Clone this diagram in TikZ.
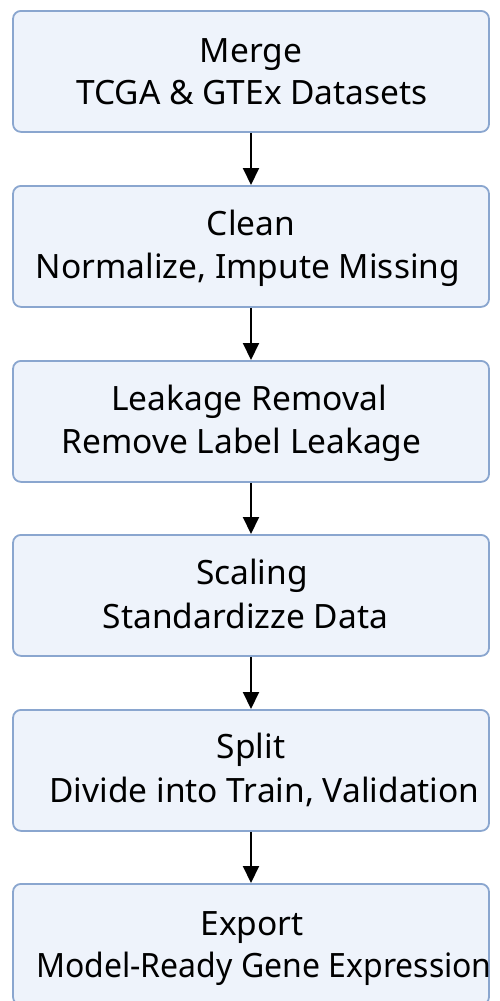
\documentclass[tikz,border=0pt]{standalone}
\usepackage{fontspec}
\setmainfont{Noto Sans}
\usetikzlibrary{arrows.meta}
\definecolor{boxfill}{HTML}{EEF3FB}
\definecolor{boxline}{HTML}{8AA6CF}
\tikzset{
  stepbox/.style={draw=boxline, fill=boxfill, line width=1.8pt, rounded corners=8pt,
    minimum width=476pt, minimum height=121pt, inner sep=0pt, anchor=north},
  lbl/.style={anchor=base, inner sep=0pt, font=\fontsize{33.5}{33.5}\selectfont},
  flow/.style={line width=2pt, -{Triangle[width=16pt,length=17pt]}}
}
\begin{document}
\begin{tikzpicture}[x=1pt,y=-1pt]
\clip (0,0) rectangle (499,1001);
\fill[white] (0,0) rectangle (499,1001);
\node[stepbox] (b1) at (251,10) {};
\node[stepbox] (b2) at (251,185) {};
\node[stepbox] (b3) at (251,360) {};
\node[stepbox] (b4) at (251,534) {};
\node[stepbox] (b5) at (251,709) {};
\node[stepbox] (b6) at (251,883) {};
\node[lbl] (t1a) at (251,62) {Merge};
\node[lbl] (t1b) at (252,104) {TCGA \& GTEx Datasets};
\node[lbl] (t2a) at (251,235) {Clean};
\node[lbl] (t2b) at (248,278) {Normalize, Impute Missing};
\node[lbl] (t3a) at (249,410) {Leakage Removal};
\node[lbl] (t3b) at (241.5,453) {Remove Label Leakage};
\node[lbl] (t4a) at (252,584) {Scaling};
\node[lbl] (t4b) at (245.5,628) {Standardizze Data};
\node[lbl] (t5a) at (251,758) {Split};
\node[lbl] (t5b) at (264.5,802) {Divide into Train, Validation};
\node[lbl] (t6a) at (252,935) {Export};
\node[lbl] (t6b) at (264,977) {\scalebox{0.955}[1]{Model-Ready Gene Expression}};
\draw[flow] (b1.south) -- (b2.north);
\draw[flow] (b2.south) -- (b3.north);
\draw[flow] (b3.south) -- (b4.north);
\draw[flow] (b4.south) -- (b5.north);
\draw[flow] (b5.south) -- (b6.north);
\end{tikzpicture}
\end{document}
